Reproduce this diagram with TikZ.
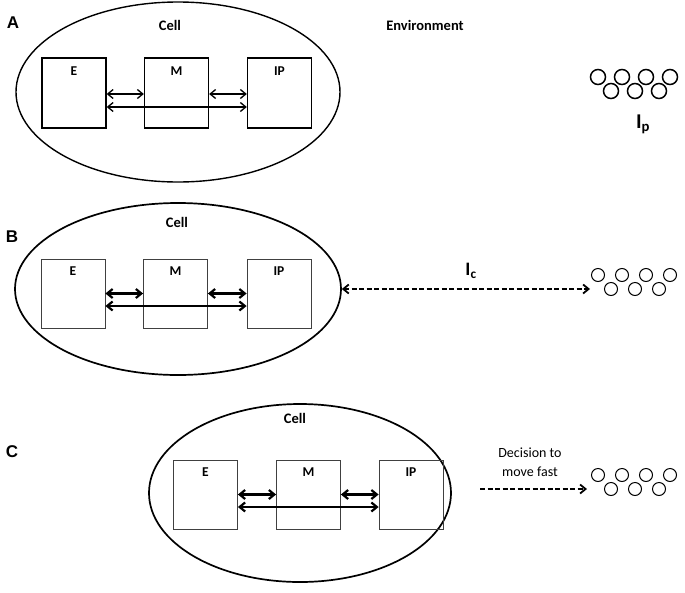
\documentclass[tikz,border=0pt]{standalone}
\usepackage{fontspec}
\setmainfont{Carlito}
\newfontfamily\panelfont{Liberation Sans}
\usetikzlibrary{shapes.geometric,arrows.meta}

\tikzset{
  cell/.style={ellipse, draw, line width=1.7pt, inner sep=0pt},
  partA/.style={draw, line width=1.3pt, minimum width=64pt, minimum height=70pt, inner sep=0pt},
  partB/.style={draw, black!75, line width=0.8pt, minimum width=64pt, minimum height=69pt, inner sep=0pt},
  tag/.style={font=\bfseries\fontsize{13.5}{14}\selectfont},
  title/.style={font=\bfseries\fontsize{14.5}{15}\selectfont},
  panel/.style={font=\panelfont\bfseries\fontsize{17}{17}\selectfont},
  link/.style={{Straight Barb[length=5.5pt,width=9pt]}-{Straight Barb[length=5.5pt,width=9pt]}},
  gap/.style={dash pattern=on 5pt off 2.5pt},
}

% a small group of particles, top row of four and bottom row of three
\newcommand{\particles}[4]{%
  \foreach \k in {0,1,2,3}
    \draw[line width=#4, fill=white] (#1+24*\k, #2) circle (#3);
  \foreach \k in {0,1,2}
    \draw[line width=#4, fill=white] (#1+13+24*\k, #2+14) circle (#3);
}

\begin{document}
\begin{tikzpicture}[x=1pt, y=-1pt]
    \useasboundingbox (0,0) rectangle (685,592);

    % Panel A
    \node[panel] at (13,23) {A};
    \node[cell, line width=1.4pt, minimum width=324pt, minimum height=180pt] (cellA) at (178,92) {};
    \node[title] at (170,25) {Cell};
    \node[title] at (425,25) {Environment};

    \node[partA] (eA) at (74,93) {};
    \node[partA] (mA) at (176.5,93) {};
    \node[partA] (ipA) at (279.5,93) {};
    \node[tag] at ([yshift=-14pt]eA.north) {E};
    \node[tag] at ([yshift=-14pt]mA.north) {M};
    \node[tag] at ([yshift=-14pt]ipA.north) {IP};

    \draw[link, line width=1.3pt] ([yshift=-1pt]eA.east) -- ([yshift=-1pt]mA.west);
    \draw[link, line width=1.3pt] ([yshift=-1pt]mA.east) -- ([yshift=-1pt]ipA.west);
    \draw[link, line width=1.3pt] ([yshift=-14pt]eA.east) -- ([yshift=-14pt]ipA.west);

    \particles{598}{77}{7.5pt}{1.5pt}
    \node[font=\bfseries\fontsize{21}{21}\selectfont] (ip) at (643,124) {I\textsubscript{p}};

    % Panel B
    \node[panel] at (12,237) {B};
    \node[cell, minimum width=326pt, minimum height=172pt] (cellB) at (178,289) {};
    \node[title] at (177,222) {Cell};

    \node[partB] (eB) at (73,293.5) {};
    \node[partB] (mB) at (175.5,293.5) {};
    \node[partB] (ipB) at (279,293.5) {};
    \node[tag] at ([yshift=-13pt]eB.north) {E};
    \node[tag] at ([yshift=-13pt]mB.north) {M};
    \node[tag] at ([yshift=-13pt]ipB.north) {IP};

    \draw[link, line width=2.2pt] (eB.east) -- (mB.west);
    \draw[link, line width=2.2pt] (mB.east) -- (ipB.west);
    \draw[link, line width=2.2pt] ([yshift=-12.5pt]eB.east) -- ([yshift=-12.5pt]ipB.west);

    \particles{598}{275}{6.5pt}{1pt}
    \coordinate (envB) at (590,289);
    \draw[link, gap, line width=1.8pt] (cellB.east) -- (envB);
    \node[font=\bfseries\fontsize{19}{19}\selectfont] (ic) at (471,271) {I\textsubscript{c}};

    % Panel C
    \node[panel] at (12,452) {C};
    \node[cell, minimum width=302pt, minimum height=178pt] (cellC) at (300,493) {};
    \node[title] at (295,418) {Cell};

    \node[partB] (eC) at (205.5,494.5) {};
    \node[partB] (mC) at (308.5,494.5) {};
    \node[partB] (ipC) at (411,494.5) {};
    \node[tag] at ([yshift=-13pt]eC.north) {E};
    \node[tag] at ([yshift=-13pt]mC.north) {M};
    \node[tag] at ([yshift=-13pt]ipC.north) {IP};

    \draw[link, line width=2.2pt] (eC.east) -- (mC.west);
    \draw[link, line width=2.2pt] (mC.east) -- (ipC.west);
    \draw[link, line width=2.2pt] ([yshift=-12.5pt]eC.east) -- ([yshift=-12.5pt]ipC.west);

    \particles{598}{475}{6.5pt}{1pt}
    \coordinate (fromC) at (480,489);
    \coordinate (envC) at (587,489);
    \draw[-{Straight Barb[length=5.5pt,width=9pt]}, gap, line width=1.8pt] (fromC) -- (envC);
    \node[align=center, font=\fontsize{14}{19}\selectfont] (move) at (530,462) {Decision to\\move fast};

\end{tikzpicture}
\end{document}
